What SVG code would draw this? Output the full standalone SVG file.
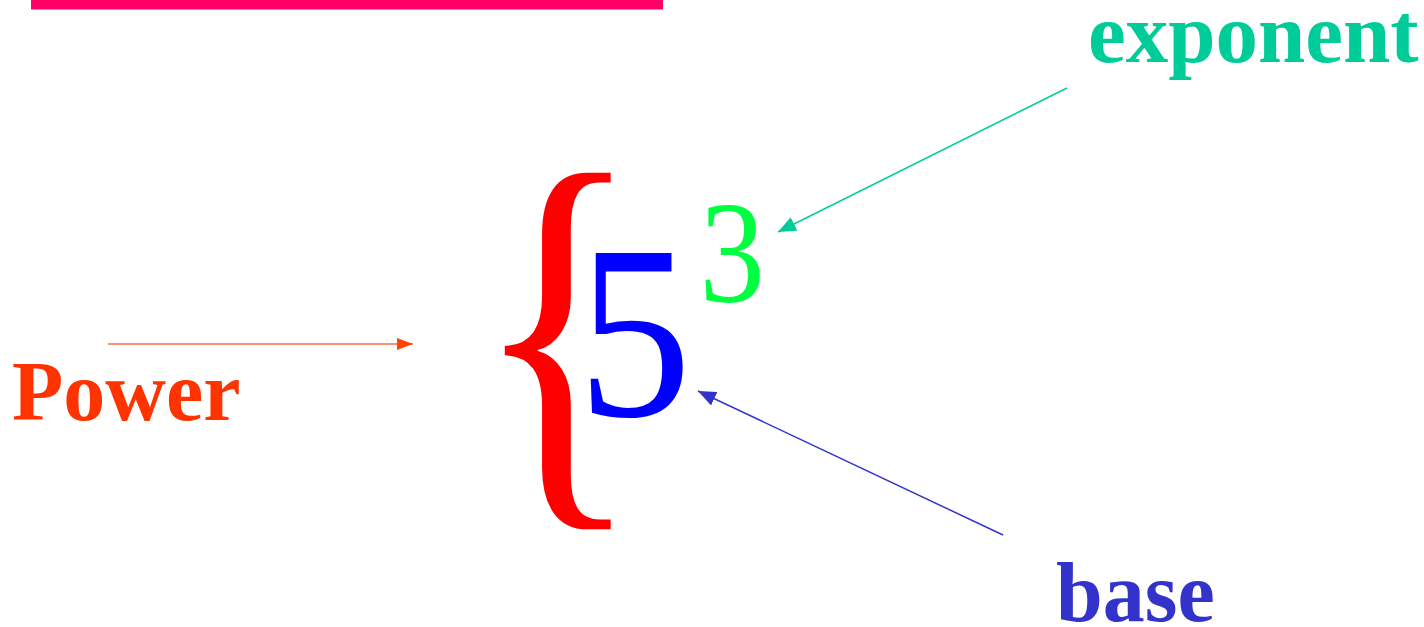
<svg xmlns="http://www.w3.org/2000/svg" width="1424" height="627" viewBox="0 0 1424 627">
<style>
.lbl{font-family:"Liberation Serif","Times New Roman",serif;font-weight:bold;font-size:84px}
.sym{font-family:"Liberation Serif","Times New Roman",serif}
</style>
<defs>
<marker id="arrRed" viewBox="0 0 10 10" refX="10" refY="5" markerWidth="16" markerHeight="12" markerUnits="userSpaceOnUse" orient="auto" preserveAspectRatio="none"><path d="M0,0L10,5L0,10z" fill="#ff4400"/></marker>
<marker id="arrGreen" viewBox="0 0 10 10" refX="10" refY="5" markerWidth="18" markerHeight="15" markerUnits="userSpaceOnUse" orient="auto" preserveAspectRatio="none"><path d="M0,0L10,5L0,10z" fill="#00cc99"/></marker>
<marker id="arrBlue" viewBox="0 0 10 10" refX="10" refY="5" markerWidth="18" markerHeight="15" markerUnits="userSpaceOnUse" orient="auto" preserveAspectRatio="none"><path d="M0,0L10,5L0,10z" fill="#3333cc"/></marker>
</defs>
<rect width="1424" height="627" fill="#ffffff"/>
<g id="title-underline">
<rect x="31" y="0" width="632" height="9.5" fill="#ff0066"/>
</g>
<g id="brace"><text class="sym" transform="translate(472.6,471.7) scale(0.823,1)" x="0" y="0" font-size="431" fill="#ff0000">{</text></g>
<g id="base-digit"><text class="sym" transform="translate(577.6,416) scale(0.92,1)" x="0" y="0" font-size="248" fill="#0000ff">5</text></g>
<g id="exponent-digit"><text class="sym" transform="translate(699.5,302) scale(0.89,1)" x="0" y="0" font-size="147" fill="#00ff40">3</text></g>
<g id="power"><text class="lbl" x="12" y="420" font-size="85" fill="#ff3300">Power</text></g>
<g id="exponent"><text class="lbl" x="1088" y="62" style="font-size:85px" fill="#00cc99">exponent</text></g>
<g id="base"><text class="lbl" x="1056" y="621" fill="#3333cc">base</text></g>
<g id="connectors" fill="none" stroke-width="1.5">
<line x1="108" y1="344" x2="413" y2="344" stroke="#ff6644" marker-end="url(#arrRed)"/>
<line x1="1067" y1="88" x2="778" y2="232" stroke="#00cc99" marker-end="url(#arrGreen)"/>
<line x1="1003" y1="535" x2="698" y2="391" stroke="#3333cc" marker-end="url(#arrBlue)"/>
</g>
</svg>
